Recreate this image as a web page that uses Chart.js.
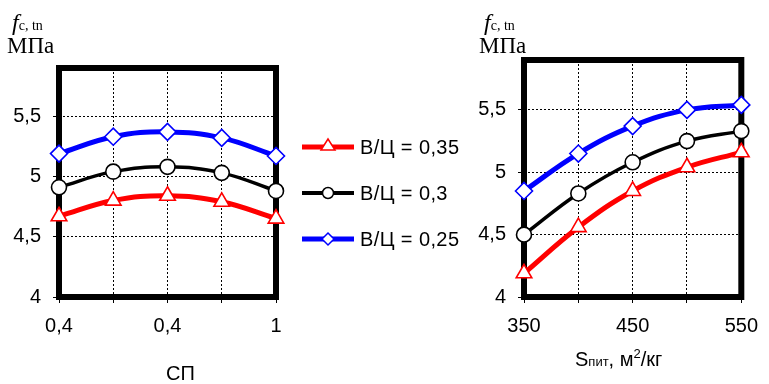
<!DOCTYPE html>
<html>
<head>
<meta charset="utf-8">
<script src="https://cdn.jsdelivr.net/npm/chart.js@4.4.1/dist/chart.umd.min.js"></script>
<style>
  body { margin: 0; background: #fff; }
  #page { position: relative; width: 769px; height: 384px; overflow: hidden; font-family: "Liberation Sans", Arial, sans-serif; color: #000; }
  .cv { position: absolute; top: 0; }
  .unit { position: absolute; font-family: "Liberation Serif", "Times New Roman", serif; line-height: 1; white-space: nowrap; }
  .unit .f { font-style: italic; font-size: 24px; }
  .unit .sub { font-size: 14px; }
  .unit .mpa { font-size: 23px; }
  .xtitle { position: absolute; font-size: 20px; line-height: 1; white-space: nowrap; }
  .xtitle .s { font-size: 13px; }
  #legend { position: absolute; left: 302px; top: 136px; }
  .item { position: relative; height: 46px; }
  .item svg { position: absolute; left: 0; top: 0; }
  .item span { position: absolute; left: 58px; top: 0px; font-size: 20px; line-height: 22px; letter-spacing: 0.4px; white-space: nowrap; }
</style>
</head>
<body>
<div id="page">
  <canvas id="left" class="cv" style="left:0px" width="300" height="384"></canvas>
  <canvas id="right" class="cv" style="left:440px" width="329" height="384"></canvas>

  <div class="unit" style="left:12px;top:10px"><span class="f">f</span><span class="sub">c, tn</span></div>
  <div class="unit" style="left:7px;top:34px"><span class="mpa">МПа</span></div>
  <div class="unit" style="left:484px;top:10px"><span class="f">f</span><span class="sub">c, tn</span></div>
  <div class="unit" style="left:479px;top:34px"><span class="mpa">МПа</span></div>

  <div class="xtitle" style="left:166px;top:363px">СП</div>
  <div class="xtitle" style="left:575px;top:347px">S<span class="s">пит</span>, м<sup style="font-size:13px">2</sup>/кг</div>

  <div id="legend"></div>
</div>
<script>
// series: В/Ц = 0,35 ; 0,3 ; 0,25
const seriesNames = ['В/Ц = 0,35', 'В/Ц = 0,3', 'В/Ц = 0,25'];
const seriesColors = ['#ff0000', '#000000', '#0000ff'];
const seriesMarkers = ['triangle', 'circle', 'rectRot'];

// left chart: СП
const spLabels = ['0,4', '', '0,4', '', '1'];
const spRed   = [4.67, 4.80, 4.84, 4.79, 4.65];
const spBlack = [4.91, 5.04, 5.08, 5.03, 4.88];
const spBlue  = [5.19, 5.33, 5.37, 5.32, 5.17];

// right chart: S пит, м2/кг
const sValues = [350, 400, 450, 500, 550];
const sRed   = [4.19, 4.56, 4.85, 5.04, 5.16];
const sBlack = [4.50, 4.83, 5.08, 5.25, 5.33];
const sBlue  = [4.85, 5.15, 5.37, 5.50, 5.54];

const yTicks = [4, 4.5, 5, 5.5];

const comma = v => String(v).replace('.', ',');
const tickFont = { size: 20, family: 'Liberation Sans' };

function styleFor(i) {
  const c = seriesColors[i];
  return {
    borderColor: c,
    borderWidth: i === 1 ? 3.5 : 5,
    tension: 0.4,
    clip: false,
    pointStyle: seriesMarkers[i],
    pointRadius: i === 0 ? 9 : (i === 1 ? 7.5 : 8.5),
    pointHoverRadius: 8,
    pointBackgroundColor: '#fff',
    pointBorderColor: c,
    pointBorderWidth: 1.6
  };
}

// thick black frame around the plot area
const framePlugin = {
  id: 'frame',
  beforeDatasetsDraw(chart) {
    const a = chart.chartArea, ctx = chart.ctx;
    ctx.save();
    ctx.strokeStyle = '#000';
    ctx.lineWidth = 6;
    ctx.strokeRect(a.left, a.top, a.right - a.left, a.bottom - a.top);
    ctx.restore();
  }
};

function yAxis(width) {
  return {
    min: 4, max: 5.9,
    afterFit: s => { s.width = width; },
    afterBuildTicks: s => { s.ticks = yTicks.map(v => ({ value: v })); },
    ticks: { callback: v => comma(v), font: tickFont, color: '#000', padding: 12 },
    grid: { color: '#000', lineWidth: 1, tickLength: 6, tickColor: '#000' },
    border: { display: false, dash: [2, 2] }
  };
}

Chart.defaults.animation = false;
Chart.defaults.responsive = false;

new Chart(document.getElementById('left'), {
  type: 'line',
  data: {
    labels: spLabels,
    datasets: [spRed, spBlack, spBlue].map((d, i) => Object.assign({ label: seriesNames[i], data: d }, styleFor(i)))
  },
  options: {
    layout: { padding: { top: 68, right: 24, left: 0, bottom: 0 } },
    plugins: { legend: { display: false }, tooltip: { enabled: false } },
    scales: {
      x: {
        offset: false,
        afterFit: s => { s.height = 384 - 297; },
        ticks: { autoSkip: false, maxRotation: 0, font: tickFont, color: '#000', padding: 11 },
        grid: { color: '#000', lineWidth: 1, tickLength: 6, tickColor: '#000' },
        border: { display: false, dash: [2, 2] }
      },
      y: yAxis(59)
    }
  },
  plugins: [framePlugin]
});

new Chart(document.getElementById('right'), {
  type: 'line',
  data: {
    datasets: [sRed, sBlack, sBlue].map((d, i) => Object.assign({
      label: seriesNames[i],
      data: d.map((v, k) => ({ x: sValues[k], y: v }))
    }, styleFor(i)))
  },
  options: {
    layout: { padding: { top: 60, right: 17, left: 0, bottom: 0 } },
    plugins: { legend: { display: false }, tooltip: { enabled: false } },
    scales: {
      x: {
        type: 'linear', min: 350, max: 550,
        afterFit: s => { s.height = 384 - 297; },
        afterBuildTicks: s => { s.ticks = sValues.map(v => ({ value: v })); },
        ticks: { callback: v => (v === 400 || v === 500) ? '' : v, maxRotation: 0, font: tickFont, color: '#000', padding: 11 },
        grid: { color: '#000', lineWidth: 1, tickLength: 6, tickColor: '#000' },
        border: { display: false, dash: [2, 2] }
      },
      y: yAxis(84)
    }
  },
  plugins: [framePlugin]
});

// legend between the two charts
const svgMarker = (i) => {
  const c = seriesColors[i];
  if (i === 0) return `<polygon points="26,3 33,14 19,14" fill="#fff" stroke="${c}" stroke-width="1.5"/>`;
  if (i === 1) return `<circle cx="26" cy="11" r="5.5" fill="#fff" stroke="${c}" stroke-width="1.5"/>`;
  return `<polygon points="26,5 32,11 26,17 20,11" fill="#fff" stroke="${c}" stroke-width="1.5"/>`;
};
document.getElementById('legend').innerHTML = seriesNames.map((n, i) =>
  `<div class="item"><svg width="56" height="22"><line x1="0" y1="11" x2="52" y2="11" stroke="${seriesColors[i]}" stroke-width="${i === 1 ? 4 : 5}"/>${svgMarker(i)}</svg><span>${n}</span></div>`
).join('');
</script>
</body>
</html>
